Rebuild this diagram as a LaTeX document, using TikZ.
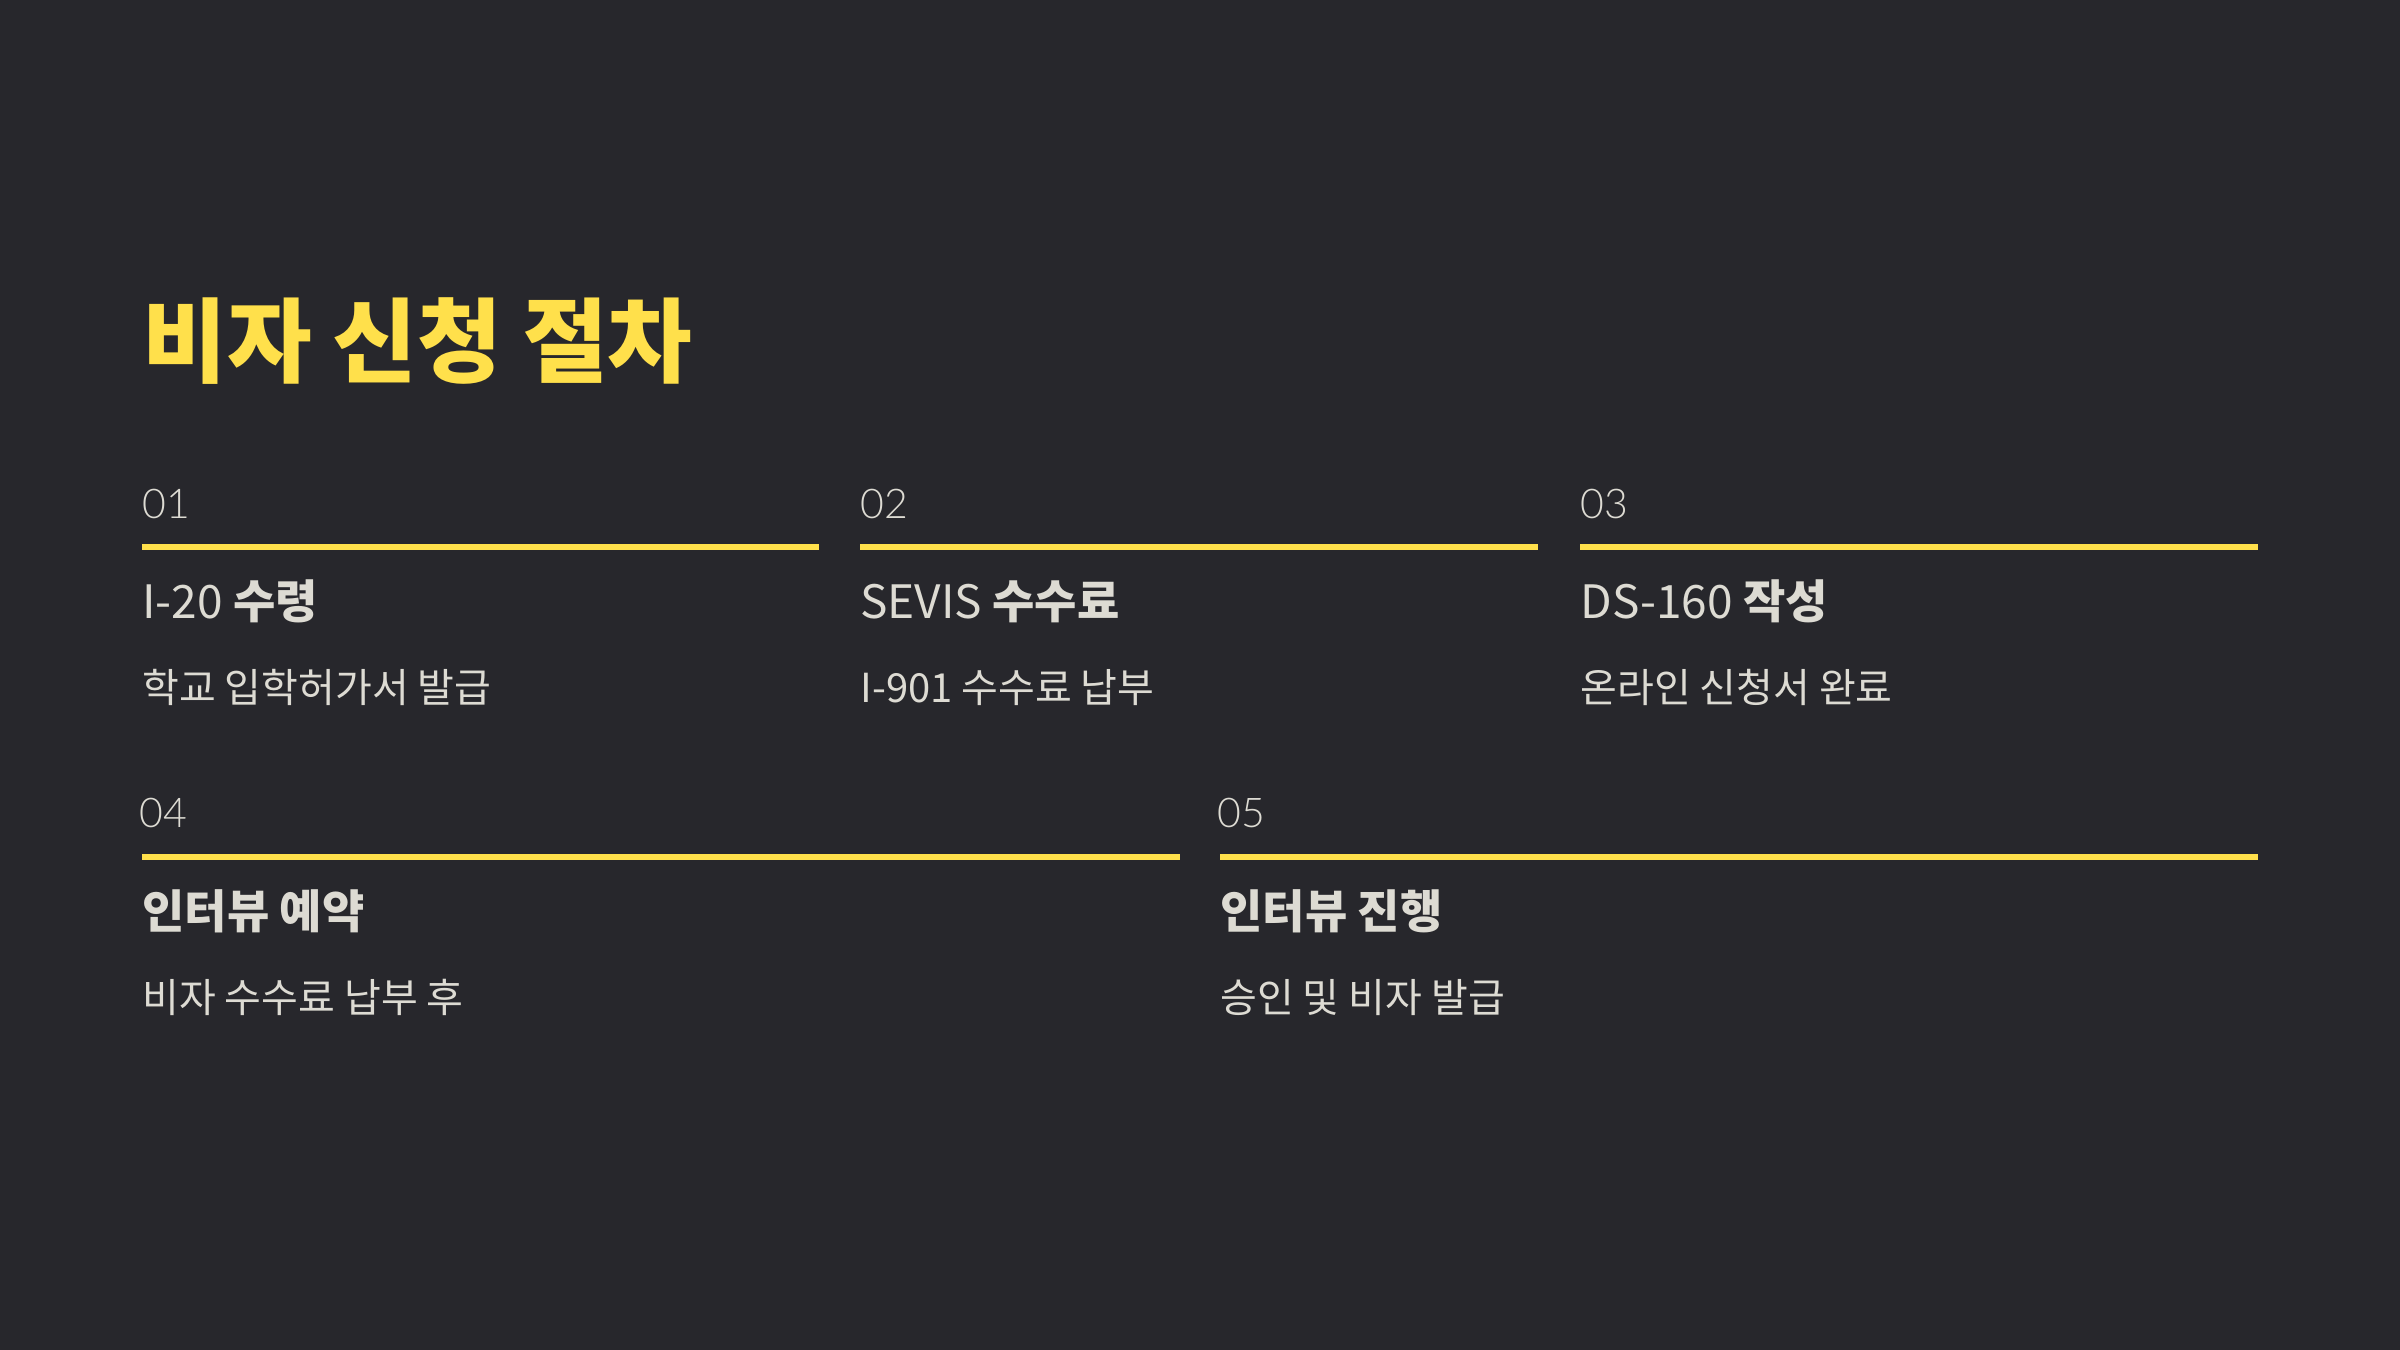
\documentclass[tikz,border=0pt]{standalone}
\usepackage{fontspec}
\setmainfont{Noto Sans CJK KR}
\newfontfamily\numfont{Lato Light}
\definecolor{bg}{HTML}{27272C}
\definecolor{acc}{HTML}{FFE04B}
\definecolor{txt}{HTML}{DDDBD3}
\tikzset{
  titletext/.style={anchor=base west, inner sep=0pt, text=acc, font=\fontsize{46pt}{46pt}\selectfont\bfseries},
  numtext/.style={anchor=base west, inner sep=0pt, text=txt, font=\numfont\fontsize{20.5pt}{20.5pt}\selectfont},
  headtext/.style={anchor=base west, inner sep=0pt, text=txt, font=\fontsize{23pt}{23pt}\selectfont},
  desctext/.style={anchor=base west, inner sep=0pt, text=txt, font=\fontsize{20pt}{20pt}\selectfont},
  bar/.style={draw=acc, line width=3pt}
}
\begin{document}
\begin{tikzpicture}[x=0.5pt,y=-0.5pt]
\fill[bg] (0,0) rectangle (2400,1350);
\useasboundingbox (0,0) rectangle (2400,1350);
\node[titletext] (title) at (142,375) {비자 신청 절차};
% row 1
\node[numtext] (n1) at (142,518) {01};
\draw[bar] (142,547) -- (819,547);
\node[headtext] (h1) at (142,618) {I-20 \textbf{수령}};
\node[desctext] (d1) at (142,702) {학교 입학허가서 발급};
\node[numtext] (n2) at (860,518) {02};
\draw[bar] (860,547) -- (1538,547);
\node[headtext] (h2) at (860,618) {SEVIS \textbf{수수료}};
\node[desctext] (d2) at (860,702) {I-901 수수료 납부};
\node[numtext] (n3) at (1580,518) {03};
\draw[bar] (1580,547) -- (2258,547);
\node[headtext] (h3) at (1580,618) {DS-160 \textbf{작성}};
\node[desctext] (d3) at (1580,702) {온라인 신청서 완료};
% row 2
\node[numtext] (n4) at (139,827) {04};
\draw[bar] (142,857) -- (1180,857);
\node[headtext] (h4) at (142,928) {\textbf{인터뷰 예약}};
\node[desctext] (d4) at (142,1012) {비자 수수료 납부 후};
\node[numtext] (n5) at (1217,827) {05};
\draw[bar] (1220,857) -- (2258,857);
\node[headtext] (h5) at (1220,928) {\textbf{인터뷰 진행}};
\node[desctext] (d5) at (1220,1012) {승인 및 비자 발급};
\end{tikzpicture}
\end{document}
